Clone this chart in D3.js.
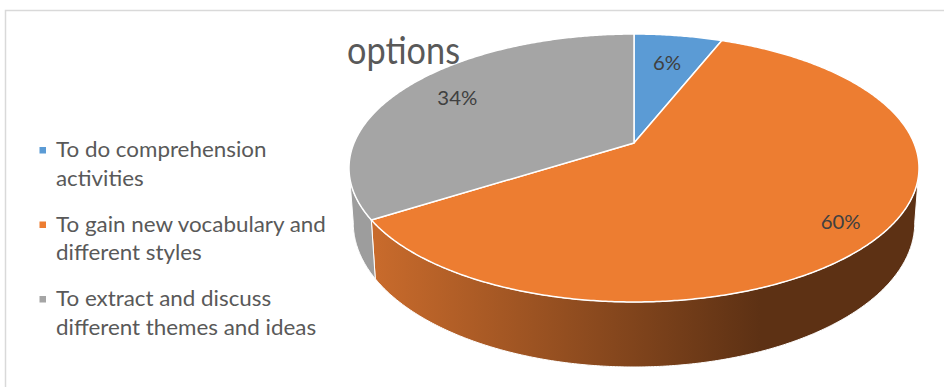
<!DOCTYPE html>
<html>
<head>
<meta charset="utf-8">
<script src="https://cdn.jsdelivr.net/npm/d3@7"></script>
<style>
  html, body { margin: 0; padding: 0; background: #fff; }
  svg { display: block; }
  text { font-family: Lato, "Open Sans", sans-serif; }
</style>
</head>
<body>
<svg id="chart" width="944" height="387"></svg>
<script>
// ---- data ----
const title = "options";
const categories = [
  "To do comprehension activities",
  "To gain new vocabulary and different styles",
  "To extract and discuss different themes and ideas"
];
const values = [6, 60, 34];
const valueLabels = ["6%", "60%", "34%"];
const colors = ["#5b9bd5", "#ed7d31", "#a5a5a5"];
const sideDark = ["#2e4f6e", "#5d3114", "#8a8a8a"];
const sideLight = ["#4f86b8", "#c96b2c", "#9d9d9d"];

// ---- layout ----
const W = 944, H = 387;
const svg = d3.select("#chart");
const cx = 634, cy = 143;        // projected pie centre
const A = 280, B = 129.3, k = 0.1866, depth = 52.9, bottomShrink = 0.985;
const labelR = [0.71, 0.86, 0.77];

const measurer = svg.append("text").attr("visibility", "hidden");
function rawW(s, size) { measurer.attr("font-size", size).text(s); return measurer.node().getComputedTextLength(); }
const legendSize = 21, titleSize = 38, labelSize = 19;
const sxLegend = 270 / rawW("To gain new vocabulary and", legendSize);
const sxTitle = 113 / rawW("options", titleSize);
const sxLabel = 40 / rawW("60%", labelSize);

// frame
svg.append("rect")
  .attr("x", 5.5).attr("y", 10.5)
  .attr("width", W + 20).attr("height", H + 20)
  .attr("fill", "none").attr("stroke", "#d9d9d9").attr("stroke-width", 1.5);

// projection of a point on the pie disc (theta clockwise from 12 o'clock)
function proj(theta, r, bottom) {
  const u = r * Math.sin(theta), v = -r * Math.cos(theta);
  const den = 1 - k * v;
  const s = bottom ? bottomShrink : 1;
  return [cx + A * u / den * s, cy + (B * v + (bottom ? depth : 0)) / den];
}
function arcPts(a0, a1, r, bottom) {
  const n = Math.max(2, Math.ceil(Math.abs(a1 - a0) / (Math.PI / 360)));
  return d3.range(n + 1).map(i => proj(a0 + (a1 - a0) * i / n, r, bottom));
}

const pie = d3.pie().sort(null).startAngle(0).endAngle(2 * Math.PI);
const arcs = pie(values);

// gradients for sides
const defs = svg.append("defs");
arcs.forEach((d, i) => {
  const g = defs.append("linearGradient")
    .attr("id", "side" + i)
    .attr("gradientUnits", "userSpaceOnUse")
    .attr("x1", 372).attr("y1", 0).attr("x2", 760).attr("y2", 0);
  g.append("stop").attr("offset", 0).attr("stop-color", sideLight[i]);
  g.append("stop").attr("offset", 1).attr("stop-color", sideDark[i]);
});

// visible side range
const vis0 = Math.acos(-k), vis1 = 2 * Math.PI - Math.acos(-k);
const line = d3.line();

const sides = svg.append("g");
arcs.forEach((d, i) => {
  const a = Math.max(d.startAngle, vis0), b = Math.min(d.endAngle, vis1);
  if (a >= b) return;
  const pts = arcPts(a, b, 1, false).concat(arcPts(b, a, 1, true));
  sides.append("path")
    .attr("d", line(pts) + "Z")
    .attr("fill", `url(#side${i})`)
    .attr("stroke", "#ffffff").attr("stroke-width", 1)
    .attr("stroke-linejoin", "round");
});

// top faces
const tops = svg.append("g");
arcs.forEach((d, i) => {
  const pts = [proj(0, 0, false)].concat(arcPts(d.startAngle, d.endAngle, 1, false));
  tops.append("path")
    .attr("d", line(pts) + "Z")
    .attr("fill", colors[i])
    .attr("stroke", "#ffffff").attr("stroke-width", 1.5)
    .attr("stroke-linejoin", "round");
});

// data labels
arcs.forEach((d, i) => {
  const mid = (d.startAngle + d.endAngle) / 2;
  const p = proj(mid, labelR[i], false);
  svg.append("text")
    .attr("transform", `translate(${p[0]},${p[1] + 7}) scale(${sxLabel},1)`)
    .attr("text-anchor", "middle")
    .attr("font-size", labelSize)
    .attr("fill", "#404040")
    .text(valueLabels[i]);
});

// title
svg.append("text")
  .attr("transform", `translate(347,64) scale(${sxTitle},1)`)
  .attr("font-size", titleSize)
  .attr("fill", "#595959")
  .text(title);

// legend
const legend = svg.append("g");
const maxW = 282, lineH = 28.5, itemH = 74.5, legX = 56, legY = 157;
function textW(s) { return rawW(s, legendSize) * sxLegend; }
function wrap(s) {
  const words = s.split(" "), out = [];
  let cur = "";
  words.forEach(w => {
    const t = cur ? cur + " " + w : w;
    if (cur && textW(t) > maxW) { out.push(cur); cur = w; } else cur = t;
  });
  if (cur) out.push(cur);
  return out;
}
categories.forEach((c, i) => {
  const y0 = legY + i * itemH;
  legend.append("rect")
    .attr("x", 39.5).attr("y", y0 - 10).attr("width", 6.5).attr("height", 6.5)
    .attr("fill", colors[i]);
  wrap(c).forEach((ln, j) => {
    legend.append("text")
      .attr("transform", `translate(${legX},${y0 + j * lineH}) scale(${sxLegend},1)`)
      .attr("font-size", legendSize)
      .attr("fill", "#595959")
      .text(ln);
  });
});
measurer.remove();
</script>
</body>
</html>
